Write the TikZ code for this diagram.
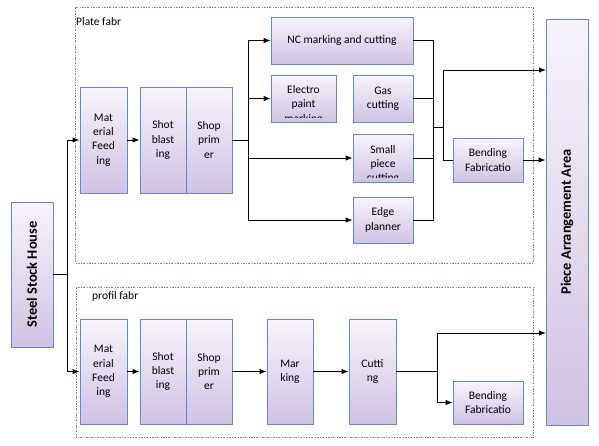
\documentclass[tikz,border=0pt]{standalone}
\usepackage{fontspec}
\setmainfont{Carlito}
\usetikzlibrary{arrows.meta,shadows}

\definecolor{boxline}{RGB}{95,138,198}
\definecolor{boxtop}{RGB}{247,244,251}
\definecolor{boxbot}{RGB}{208,194,228}
\definecolor{grpline}{RGB}{118,138,168}

\tikzset{
  stage/.style={draw=boxline, line width=0.8pt, top color=boxtop, bottom color=boxbot,
    align=center, inner sep=1pt, font=\fontsize{11.5}{14.3}\selectfont,
    drop shadow={shadow xshift=0.8pt, shadow yshift=-0.8pt, fill=black!45, opacity=0.4}},
  cliptext/.style={path picture={
    \clip ([yshift=5pt]path picture bounding box.south west) rectangle (path picture bounding box.north east);
    \node[anchor=north, inner sep=0pt, align=center, font=\fontsize{11.5}{14.3}\selectfont]
      at ([yshift=-6pt]path picture bounding box.north) {#1};}},
  title/.style={font=\bfseries\fontsize{14.4}{16}\selectfont},
  group/.style={draw=grpline, line width=0.6pt, dash pattern=on 2pt off 1.5pt on 0.5pt off 1.5pt},
  flow/.style={line width=1pt}
}

\begin{document}
\begin{tikzpicture}[>={Latex[length=7pt,width=5.5pt]}, x=1pt, y=-1pt]
	\useasboundingbox (0,0) rectangle (599,445);
	%\draw [help lines, step=50] (0,0) grid (599,445);

	% groups
	\draw [group] (75,7) rectangle (533,263);
	\node [anchor=west, inner sep=0pt, font=\fontsize{11.5}{14}\selectfont] (plate label) at (76,21.5) {Plate fabr};
	\draw [group] (76,287) rectangle (533,437);
	\node [anchor=west, inner sep=0pt, font=\fontsize{11.5}{14}\selectfont] (profil label) at (92,296) {profil fabr};

	% outer boxes
	\node [stage, title, minimum width=42, minimum height=145] (ssh) at (32,274.5) {\rotatebox{90}{Steel Stock House}};
	\node [stage, title, minimum width=42, minimum height=406] (pa) at (567,222) {\rotatebox{90}{Piece Arrangement Area}};

	% plate row
	\node [stage, minimum width=47, minimum height=106] (pmf) at (103.5,140) {Mat\\erial\\Feed\\ing};
	\node [stage, minimum width=46, minimum height=106] (psb) at (163,140) {Shot\\blast\\ing};
	\node [stage, minimum width=46, minimum height=106] (psp) at (209,140) {Shop\\prim\\er};
	\node [stage, minimum width=142, minimum height=47] (nc) at (342,40.5) {NC marking and cutting};
	\node [stage, minimum width=65, minimum height=47, cliptext={Electro\\paint\\marking}] (epm) at (303.5,98.5) {};
	\node [stage, minimum width=60, minimum height=47] (gas) at (383,98.5) {Gas\\cutting};
	\node [stage, minimum width=60, minimum height=48, cliptext={Small\\piece\\cutting}] (spc) at (383,158) {};
	\node [stage, minimum width=60, minimum height=46] (edge) at (383,220) {Edge\\planner};
	\node [stage, minimum width=70, minimum height=44] (pbend) at (488,160) {Bending\\Fabricatio};

	% profil row
	\node [stage, minimum width=47, minimum height=105] (rmf) at (103.5,371.5) {Mat\\erial\\Feed\\ing};
	\node [stage, minimum width=46, minimum height=105] (rsb) at (163,371.5) {Shot\\blast\\ing};
	\node [stage, minimum width=46, minimum height=105] (rsp) at (209,371.5) {Shop\\prim\\er};
	\node [stage, minimum width=46, minimum height=105] (rmk) at (290,371.5) {Mar\\king};
	\node [stage, minimum width=47, minimum height=105] (rct) at (372.5,371.5) {Cutti\\ng};
	\node [stage, minimum width=70, minimum height=43] (rbend) at (488,402.5) {Bending\\Fabricatio};

	% branch points
	\coordinate (ssh bus) at (67,274.5);
	\coordinate (psplit) at (248,140);
	\coordinate (pjoin) at (433,127);
	\coordinate (pfork) at (443,127);
	\coordinate (rfork) at (437,371.5);
	\coordinate (pa in1) at (546,70);
	\coordinate (pa in3) at (546,333);

	% stock house to both rows
	\draw [flow] (ssh.east) -- (ssh bus);
	\draw [flow, ->] (ssh bus) |- (pmf.west);
	\draw [flow, ->] (ssh bus) |- (rmf.west);

	% plate flow
	\draw [flow, ->] (pmf) -- (psb);
	\draw [flow] (psp.east) -- (psplit);
	\draw [flow, ->] (psplit) |- (nc.west);
	\draw [flow, ->] (psplit) |- (epm.west);
	\draw [flow, ->] (psplit) |- (spc.west);
	\draw [flow, ->] (psplit) |- (edge.west);
	\draw [flow] (nc.east) -| (pjoin);
	\draw [flow] (gas.east) -| (pjoin);
	\draw [flow] (spc.east) -| (pjoin);
	\draw [flow] (edge.east) -| (pjoin);
	\draw [flow] (pjoin) -- (pfork);
	\draw [flow, ->] (pfork) |- (pa in1);
	\draw [flow] (pfork) |- (pbend.west);
	\draw [flow, ->] (pbend.east) -- (pbend.east -| pa.west);

	% profil flow
	\draw [flow, ->] (rmf) -- (rsb);
	\draw [flow, ->] (rsp) -- (rmk);
	\draw [flow, ->] (rmk) -- (rct);
	\draw [flow] (rct.east) -- (rfork);
	\draw [flow, ->] (rfork) |- (pa in3);
	\draw [flow, ->] (rfork) |- (rbend.west);
\end{tikzpicture}
\end{document}
